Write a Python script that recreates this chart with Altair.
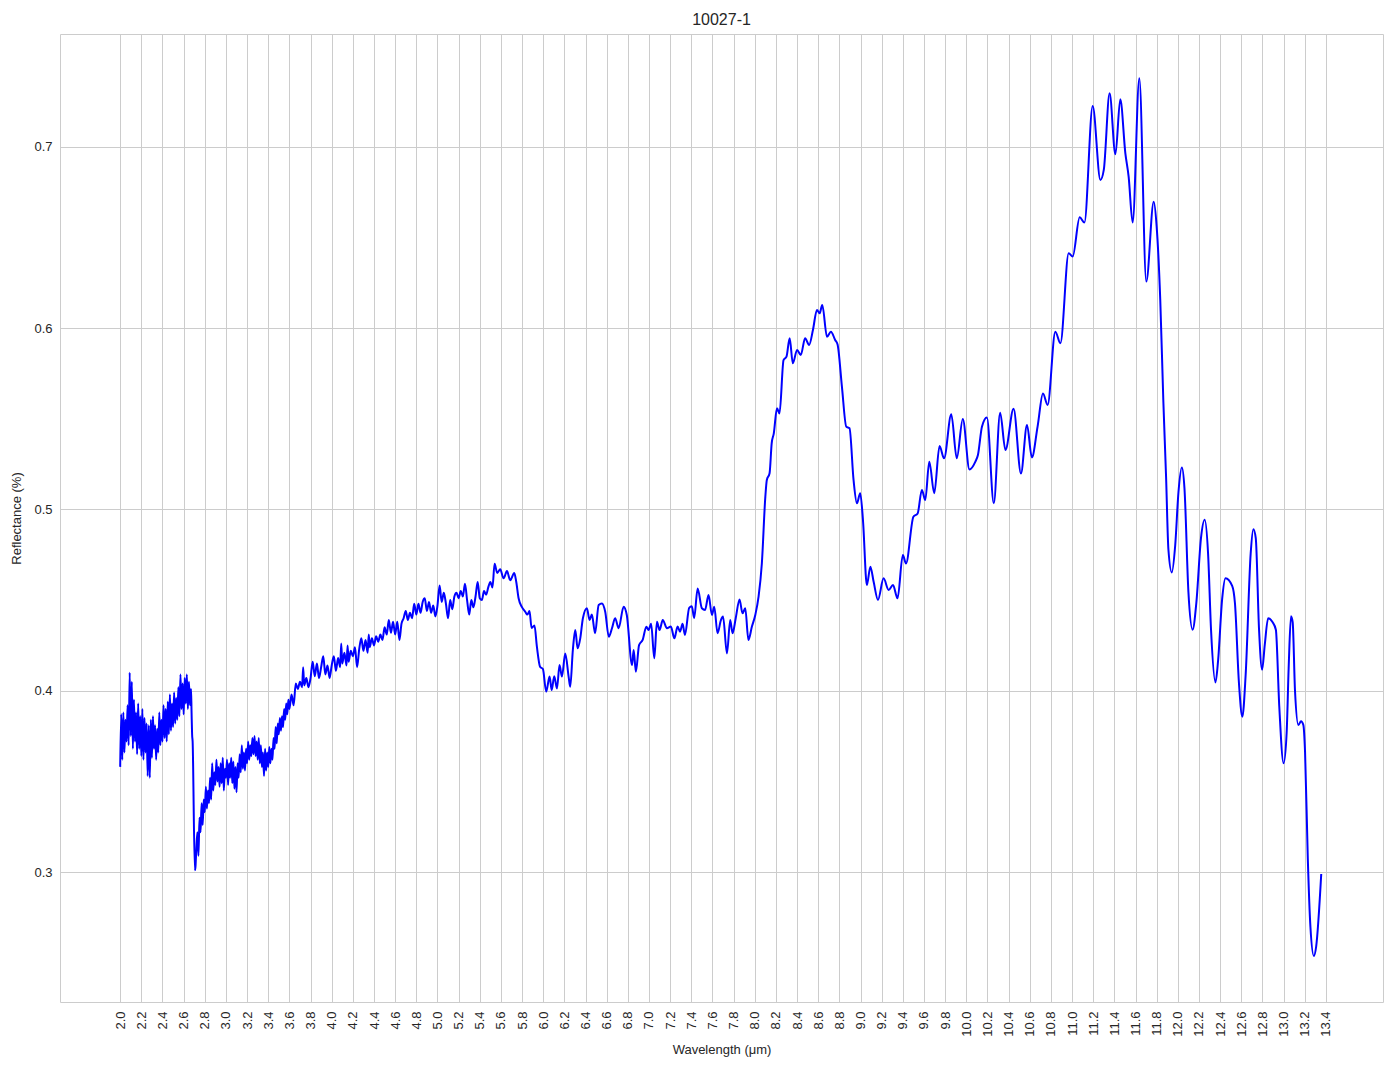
import altair as alt
import pandas as pd

# ---- Data (wavelength in µm, reflectance) ----
# Very noisy start, 2.00 - 2.71 µm
seg_a = [
    (2.00, 0.358), (2.01, 0.387), (2.02, 0.362), (2.03, 0.388), (2.04, 0.366),
    (2.05, 0.384), (2.06, 0.372), (2.07, 0.392), (2.08, 0.370), (2.09, 0.410),
    (2.10, 0.375), (2.11, 0.405), (2.12, 0.368), (2.13, 0.395), (2.14, 0.372),
    (2.15, 0.388), (2.16, 0.365), (2.17, 0.393), (2.18, 0.368), (2.19, 0.386),
    (2.20, 0.364), (2.21, 0.390), (2.22, 0.362), (2.23, 0.385), (2.24, 0.366),
    (2.25, 0.382), (2.26, 0.353), (2.27, 0.381), (2.28, 0.352), (2.29, 0.384),
    (2.30, 0.363), (2.31, 0.386), (2.32, 0.368), (2.33, 0.381), (2.34, 0.362),
    (2.35, 0.379), (2.36, 0.366), (2.37, 0.388), (2.38, 0.370), (2.39, 0.384),
    (2.40, 0.372), (2.41, 0.392), (2.42, 0.374), (2.43, 0.390), (2.44, 0.372),
    (2.45, 0.394), (2.46, 0.376), (2.47, 0.398), (2.48, 0.378), (2.49, 0.393),
    (2.50, 0.380), (2.51, 0.399), (2.52, 0.382), (2.53, 0.396), (2.54, 0.384),
    (2.55, 0.402), (2.56, 0.386), (2.57, 0.409), (2.58, 0.390), (2.59, 0.404),
    (2.60, 0.387), (2.61, 0.407), (2.62, 0.393), (2.63, 0.409), (2.64, 0.390),
    (2.65, 0.405), (2.66, 0.392), (2.67, 0.401), (2.675, 0.388), (2.68, 0.376),
    (2.685, 0.372), (2.706, 0.301), (2.712, 0.303),
]

# Noisy recovery, 2.72 - 3.59 µm
seg_b = [
    (2.72, 0.313), (2.73, 0.322), (2.74, 0.309), (2.75, 0.330), (2.76, 0.322),
    (2.77, 0.338), (2.78, 0.326), (2.79, 0.340), (2.80, 0.333), (2.81, 0.347),
    (2.82, 0.335), (2.83, 0.345), (2.84, 0.338), (2.85, 0.352), (2.86, 0.340),
    (2.87, 0.360), (2.88, 0.345), (2.89, 0.355), (2.90, 0.348), (2.91, 0.362),
    (2.92, 0.350), (2.93, 0.358), (2.94, 0.347), (2.95, 0.360), (2.96, 0.349),
    (2.97, 0.363), (2.98, 0.345), (2.99, 0.357), (3.00, 0.352), (3.01, 0.362),
    (3.02, 0.348), (3.03, 0.360), (3.04, 0.352), (3.05, 0.363), (3.06, 0.349),
    (3.07, 0.361), (3.08, 0.346), (3.09, 0.358), (3.10, 0.344), (3.11, 0.360),
    (3.12, 0.352), (3.13, 0.365), (3.14, 0.355), (3.15, 0.370), (3.16, 0.357),
    (3.17, 0.366), (3.18, 0.356), (3.19, 0.368), (3.20, 0.360), (3.21, 0.372),
    (3.22, 0.362), (3.23, 0.370), (3.24, 0.364), (3.25, 0.374), (3.26, 0.365),
    (3.27, 0.375), (3.28, 0.364), (3.29, 0.372), (3.30, 0.362), (3.31, 0.374),
    (3.32, 0.360), (3.33, 0.370), (3.34, 0.358), (3.35, 0.366), (3.36, 0.353),
    (3.37, 0.368), (3.38, 0.356), (3.39, 0.366), (3.40, 0.358), (3.41, 0.369),
    (3.42, 0.360), (3.43, 0.368), (3.44, 0.362), (3.45, 0.374), (3.46, 0.368),
    (3.47, 0.380), (3.48, 0.371), (3.49, 0.382), (3.50, 0.376), (3.51, 0.385),
    (3.52, 0.378), (3.53, 0.386), (3.54, 0.380), (3.55, 0.390), (3.56, 0.384),
    (3.57, 0.393), (3.58, 0.387), (3.59, 0.395),
]

# Slowly rising noisy plateau, 3.60 - 5.54 µm
seg_c = [
    (3.60, 0.390), (3.62, 0.398), (3.64, 0.392), (3.66, 0.404), (3.68, 0.401),
    (3.70, 0.405), (3.72, 0.402), (3.73, 0.413), (3.74, 0.403), (3.76, 0.407),
    (3.78, 0.402), (3.80, 0.407), (3.82, 0.416), (3.84, 0.408), (3.86, 0.415),
    (3.88, 0.407), (3.90, 0.413), (3.92, 0.419), (3.94, 0.409), (3.96, 0.414),
    (3.98, 0.407), (4.00, 0.414), (4.02, 0.419), (4.04, 0.411), (4.06, 0.418),
    (4.08, 0.413), (4.09, 0.426), (4.10, 0.415), (4.12, 0.421), (4.14, 0.414),
    (4.15, 0.425), (4.16, 0.416), (4.18, 0.422), (4.20, 0.419), (4.22, 0.424),
    (4.24, 0.413), (4.26, 0.423), (4.28, 0.429), (4.30, 0.422), (4.32, 0.428),
    (4.34, 0.421), (4.35, 0.431), (4.36, 0.424), (4.38, 0.429), (4.40, 0.425),
    (4.42, 0.430), (4.44, 0.427), (4.46, 0.431), (4.48, 0.428), (4.50, 0.435),
    (4.52, 0.431), (4.54, 0.439), (4.56, 0.432), (4.58, 0.438), (4.60, 0.431),
    (4.62, 0.438), (4.64, 0.428), (4.66, 0.437), (4.68, 0.440), (4.70, 0.444),
    (4.72, 0.439), (4.74, 0.443), (4.76, 0.440), (4.78, 0.448), (4.80, 0.442),
    (4.82, 0.448), (4.84, 0.443), (4.86, 0.449), (4.88, 0.451), (4.90, 0.444),
    (4.92, 0.449), (4.94, 0.443), (4.96, 0.447), (4.98, 0.441), (5.00, 0.447),
    (5.02, 0.458), (5.04, 0.449), (5.06, 0.454), (5.08, 0.448), (5.10, 0.440),
    (5.12, 0.450), (5.14, 0.445), (5.16, 0.452), (5.18, 0.454), (5.20, 0.451),
    (5.22, 0.455), (5.24, 0.452), (5.26, 0.459), (5.28, 0.450), (5.30, 0.442),
    (5.32, 0.450), (5.34, 0.446), (5.36, 0.452), (5.38, 0.460), (5.40, 0.451),
    (5.42, 0.450), (5.44, 0.455), (5.46, 0.453), (5.48, 0.457), (5.50, 0.460),
    (5.52, 0.457), (5.54, 0.470),
]

# Smoother part, 5.56 - 13.36 µm
seg_d = [
    (5.565, 0.465), (5.593, 0.467), (5.625, 0.462), (5.657, 0.466), (5.688, 0.461),
    (5.726, 0.465), (5.745, 0.460), (5.767, 0.451), (5.800, 0.446), (5.830, 0.4436),
    (5.850, 0.442), (5.870, 0.444), (5.890, 0.4346), (5.917, 0.436), (5.940, 0.4243),
    (5.970, 0.4133), (5.997, 0.412), (6.028, 0.3995), (6.060, 0.4078), (6.080, 0.4004),
    (6.104, 0.408), (6.130, 0.4013), (6.154, 0.4142), (6.177, 0.4078), (6.208, 0.4206),
    (6.240, 0.4078), (6.255, 0.4022), (6.280, 0.4225), (6.303, 0.4335), (6.325, 0.4234),
    (6.350, 0.4289), (6.375, 0.440), (6.413, 0.4455), (6.438, 0.439), (6.460, 0.442),
    (6.490, 0.4317), (6.524, 0.4473), (6.555, 0.4482), (6.586, 0.4436), (6.620, 0.4298),
    (6.650, 0.4345), (6.680, 0.440), (6.713, 0.4345), (6.760, 0.4464), (6.790, 0.4418),
    (6.840, 0.4142), (6.855, 0.4225), (6.876, 0.4105), (6.906, 0.4252), (6.940, 0.428),
    (6.975, 0.4353), (6.996, 0.4335), (7.020, 0.437), (7.050, 0.4179), (7.075, 0.438),
    (7.100, 0.4335), (7.130, 0.439), (7.170, 0.4345), (7.207, 0.4354), (7.240, 0.4289),
    (7.270, 0.4354), (7.294, 0.4326), (7.317, 0.437), (7.340, 0.4308), (7.380, 0.4457),
    (7.405, 0.4466), (7.427, 0.4401), (7.460, 0.4564), (7.500, 0.4455), (7.530, 0.4446),
    (7.563, 0.4528), (7.595, 0.4418), (7.617, 0.4464), (7.648, 0.4317), (7.680, 0.439),
    (7.700, 0.4409), (7.737, 0.4206), (7.768, 0.439), (7.790, 0.4317), (7.820, 0.440),
    (7.856, 0.4504), (7.884, 0.4427), (7.910, 0.4455), (7.940, 0.428), (7.973, 0.4354),
    (8.005, 0.4418), (8.036, 0.4519), (8.067, 0.4702), (8.100, 0.5071), (8.114, 0.5163),
    (8.140, 0.520), (8.160, 0.5365), (8.180, 0.542), (8.210, 0.5558), (8.234, 0.553),
    (8.272, 0.5824), (8.300, 0.5843), (8.330, 0.5944), (8.360, 0.5806), (8.400, 0.588),
    (8.435, 0.5852), (8.476, 0.5944), (8.514, 0.5908), (8.550, 0.599), (8.588, 0.6101),
    (8.613, 0.6082), (8.638, 0.6128), (8.683, 0.5953), (8.720, 0.5981), (8.760, 0.5935),
    (8.783, 0.591), (8.824, 0.5678), (8.865, 0.5457), (8.896, 0.5448), (8.934, 0.5163),
    (8.966, 0.5034), (8.997, 0.509), (9.023, 0.4942), (9.060, 0.4583), (9.093, 0.4684),
    (9.124, 0.4601), (9.165, 0.4501), (9.218, 0.462), (9.266, 0.4556), (9.307, 0.4583),
    (9.350, 0.451), (9.400, 0.4749), (9.430, 0.4702), (9.500, 0.496), (9.540, 0.4978),
    (9.580, 0.5108), (9.612, 0.5052), (9.650, 0.5263), (9.697, 0.509), (9.747, 0.535),
    (9.790, 0.5282), (9.858, 0.5525), (9.910, 0.5282), (9.967, 0.5499), (10.030, 0.5221),
    (10.085, 0.5263), (10.110, 0.530), (10.148, 0.5457), (10.195, 0.5508), (10.260, 0.5034),
    (10.320, 0.5534), (10.370, 0.5328), (10.447, 0.5556), (10.517, 0.5199), (10.574, 0.5466),
    (10.620, 0.5287), (10.674, 0.5457), (10.725, 0.564), (10.769, 0.5577), (10.842, 0.5981),
    (10.890, 0.5917), (10.968, 0.6413), (11.006, 0.6395), (11.072, 0.6612), (11.117, 0.6583),
    (11.195, 0.7226), (11.268, 0.6818), (11.300, 0.6873), (11.355, 0.7296), (11.410, 0.6959),
    (11.456, 0.7263), (11.504, 0.6965), (11.535, 0.6836), (11.573, 0.6583), (11.636, 0.7379),
    (11.702, 0.6257), (11.772, 0.6698), (11.800, 0.656), (11.834, 0.6156), (11.863, 0.560),
    (11.889, 0.5179), (11.911, 0.4779), (11.943, 0.4653), (11.975, 0.480), (12.006, 0.5095),
    (12.038, 0.5232), (12.063, 0.5116), (12.100, 0.4547), (12.140, 0.4337), (12.175, 0.4484),
    (12.219, 0.4842), (12.254, 0.4943), (12.286, 0.4758), (12.314, 0.4337), (12.356, 0.4046),
    (12.381, 0.4168), (12.419, 0.4505), (12.451, 0.4621), (12.514, 0.4579), (12.540, 0.4484),
    (12.578, 0.4042), (12.610, 0.3857), (12.641, 0.4084), (12.689, 0.4758), (12.714, 0.4891),
    (12.737, 0.4842), (12.768, 0.4337), (12.797, 0.4116), (12.822, 0.4253), (12.854, 0.440),
    (12.895, 0.4379), (12.927, 0.4337), (12.959, 0.3916), (13.000, 0.360), (13.029, 0.3768),
    (13.048, 0.4126), (13.070, 0.4411), (13.086, 0.4379), (13.108, 0.400), (13.140, 0.3811),
    (13.165, 0.3832), (13.187, 0.3811), (13.203, 0.3663), (13.229, 0.3074), (13.254, 0.2695),
    (13.286, 0.2537), (13.308, 0.2589), (13.356, 0.2989),
]

x_ticks = [round(2.0 + 0.2 * i, 1) for i in range(58)]  # 2.0 ... 13.4
y_ticks = [0.3, 0.4, 0.5, 0.6, 0.7]

rows = seg_a + seg_b + seg_c + seg_d
df = pd.DataFrame(rows, columns=["wavelength", "reflectance"])

FONT = "Liberation Sans"
TXT = "#262626"
GRID = "#cccccc"

chart = (
    alt.Chart(df)
    .mark_line(color="#0000ff", strokeWidth=2, interpolate="monotone")
    .encode(
        x=alt.X(
            "wavelength:Q",
            scale=alt.Scale(domain=[1.431, 13.94], nice=False, zero=False),
            axis=alt.Axis(
                values=x_ticks,
                format=".1f",
                labelAngle=270,
                title="Wavelength (μm)",
                titlePadding=7,
                labelPadding=9,
            ),
        ),
        y=alt.Y(
            "reflectance:Q",
            scale=alt.Scale(domain=[0.2283, 0.7623], nice=False, zero=False),
            axis=alt.Axis(
                values=y_ticks,
                format=".1f",
                title="Reflectance (%)",
                titlePadding=10,
                labelPadding=8,
            ),
        ),
    )
    .properties(
        width=1323,
        height=968,
        padding={"left": 2, "top": 4, "right": 2, "bottom": 4},
        title=alt.TitleParams(
            "10027-1", font=FONT, fontSize=16, fontWeight="normal", color=TXT, offset=6
        ),
    )
    .configure_view(stroke=GRID, strokeWidth=1)
    .configure_axis(
        grid=True,
        gridColor=GRID,
        gridWidth=1,
        domain=False,
        ticks=False,
        tickSize=0,
        labelFont=FONT,
        labelFontSize=13,
        labelColor=TXT,
        titleFont=FONT,
        titleFontSize=13,
        titleFontWeight="normal",
        titleColor=TXT,
    )
)

chart.save("out.html", embed_options={"renderer": "svg", "actions": False})
